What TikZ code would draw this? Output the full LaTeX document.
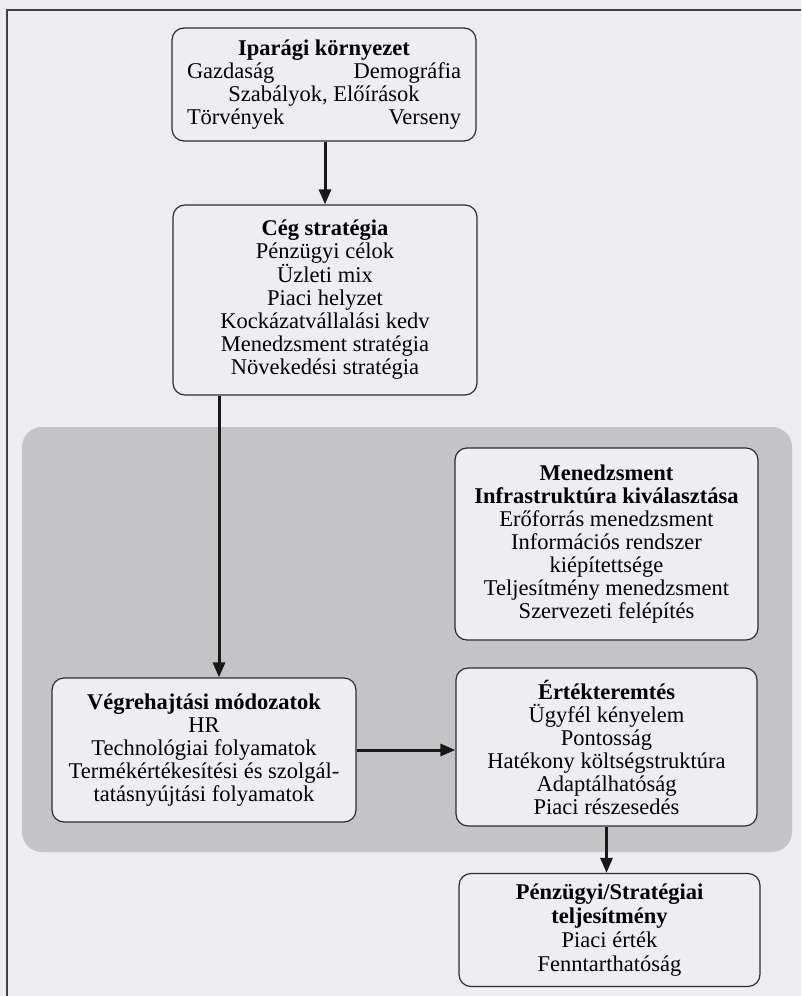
\documentclass[tikz,border=0pt]{standalone}
\usepackage{fontspec}
\setmainfont{Liberation Serif}
\usetikzlibrary{arrows.meta}
\definecolor{pagebg}{RGB}{237,237,241}
\definecolor{panelgray}{RGB}{196,196,198}
\definecolor{boxfill}{RGB}{238,238,242}
\definecolor{inkline}{RGB}{45,45,45}
\tikzset{
  diabox/.style={draw=inkline, line width=1.2pt, fill=boxfill, rounded corners=12pt,
    rectangle, inner sep=0pt, align=center, font=\fontsize{22.5}{23}\selectfont},
  flowarrow/.style={draw=black!90, line width=3pt,
    -{Triangle[length=15pt,width=12pt]}, shorten <=0pt},
  framerule/.style={draw=black!75, line width=2pt}
}
\begin{document}
\begin{tikzpicture}[x=1pt,y=-1pt]
\useasboundingbox (0,0) rectangle (801,996);
\fill[pagebg] (0,0) rectangle (801,996);
% frame
\coordinate (ftl) at (7,10);
\coordinate (ftr) at (801,10);
\coordinate (fbl) at (7,996);
\draw[framerule] (ftr) -- (ftl) -- (fbl);
% gray panel
\fill[panelgray, rounded corners=20pt] (22,427) rectangle (792,852);

\node[diabox, minimum width=304pt, minimum height=113pt] (env) at (324,84.5)
  {\parbox{274pt}{\centering\textbf{Iparági környezet}\\
   \makebox[274pt]{Gazdaság\hfill Demográfia}\\
   Szabályok, Előírások\\
   \makebox[274pt]{Törvények\hfill Verseny}}};

\node[diabox, minimum width=304pt, minimum height=190pt] (strat) at (325,300)
  {\textbf{Cég stratégia}\\ Pénzügyi célok\\ Üzleti mix\\ Piaci helyzet\\
   Kockázatvállalási kedv\\ Menedzsment stratégia\\ Növekedési stratégia};

\node[diabox, minimum width=303pt, minimum height=192pt] (mgmt) at (606.5,544)
  {\textbf{Menedzsment}\\ \textbf{Infrastruktúra kiválasztása}\\
   Erőforrás menedzsment\\ Információs rendszer\\ kiépítettsége\\
   Teljesítmény menedzsment\\ Szervezeti felépítés};

\node[diabox, minimum width=304pt, minimum height=144pt] (exec) at (204,750)
  {\textbf{Végrehajtási módozatok}\\ HR\\ Technológiai folyamatok\\
   Termékértékesítési és szolgál-\\ tatásnyújtási folyamatok};

\node[diabox, minimum width=301pt, minimum height=158pt] (value) at (606.5,747)
  {\textbf{Értékteremtés}\\ Ügyfél kényelem\\ Pontosság\\
   Hatékony költségstruktúra\\ Adaptálhatóság\\ Piaci részesedés};

\node[diabox, minimum width=301pt, minimum height=113pt, font=\fontsize{22.5}{24}\selectfont] (perf) at (609.5,930)
  {\textbf{Pénzügyi/Stratégiai}\\ \textbf{teljesítmény}\\ Piaci érték\\ Fenntarthatóság};

% connectors
\coordinate (longx) at (219,0);
\draw[flowarrow] (env.south -| strat.north) -- (strat.north);
\draw[flowarrow] (longx |- strat.south) -- (longx |- exec.north);
\draw[flowarrow] (exec.east) -- (exec.east -| value.west);
\draw[flowarrow] (value.south) -- (value.south |- perf.north);
\end{tikzpicture}
\end{document}
